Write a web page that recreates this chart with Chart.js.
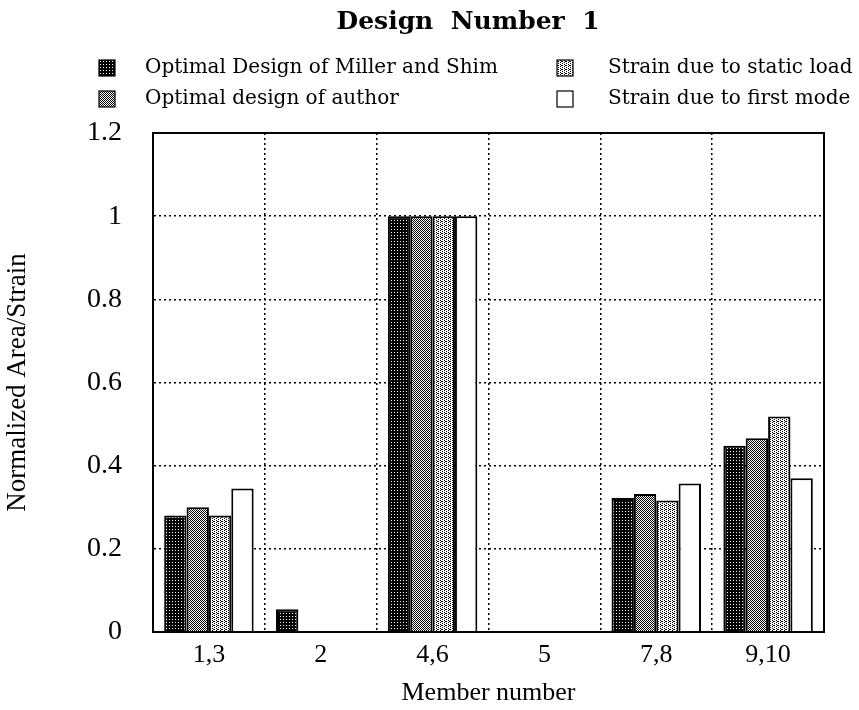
<!DOCTYPE html>
<html><head><meta charset="utf-8">
<script src="https://cdn.jsdelivr.net/npm/chart.js@4"></script>
<style>html,body{margin:0;padding:0;background:#fff}#wrap{width:859px;height:710px;position:relative}</style>
</head><body><div id="wrap"><canvas id="c" width="859" height="710"></canvas></div>
<script>
const chartTitle = 'Design  Number  1';
const categories = ['1,3', '2', '4,6', '5', '7,8', '9,10'];
const seriesNames = ['Optimal Design of Miller and Shim', 'Optimal design of author', 'Strain due to static load', 'Strain due to first mode'];
const millerShim = [0.28, 0.055, 1.0, 0, 0.322, 0.448];
const author = [0.30, 0, 1.0, 0, 0.332, 0.466];
const staticLoad = [0.28, 0, 1.0, 0, 0.316, 0.518];
const firstMode = [0.345, 0, 1.0, 0, 0.357, 0.37];
const yTicks = [0, 0.2, 0.4, 0.6, 0.8, 1, 1.2];

function makePattern(size, blacks, invert) {
  const c = document.createElement('canvas');
  c.width = size; c.height = size;
  const g = c.getContext('2d');
  g.fillStyle = invert ? '#000' : '#fff';
  g.fillRect(0, 0, size, size);
  g.fillStyle = invert ? '#fff' : '#000';
  blacks.forEach(p => g.fillRect(p[0], p[1], 1, 1));
  return g.createPattern(c, 'repeat');
}
const pDark = makePattern(3, [[1,1]], true);
const pMid = makePattern(2, [[0,0],[1,1]], false);
const pLight = makePattern(4, [[0,0],[2,1],[0,2],[2,3],[1,1]], false);
const fills = [pDark, pMid, pLight, '#ffffff'];
const seriesData = [millerShim, author, staticLoad, firstMode];

const SERIF = '"Liberation Serif", "Times New Roman", serif';
const WIDE = '"DejaVu Serif", serif';

const decor = {
  id: 'decor',
  afterDraw(chart) {
    const ctx = chart.ctx;
    const a = chart.chartArea;
    ctx.save();
    ctx.strokeStyle = '#000';
    ctx.lineWidth = 2;
    ctx.strokeRect(a.left, a.top, a.right - a.left, a.bottom - a.top);
    // title
    ctx.fillStyle = '#000';
    ctx.font = 'bold 25px ' + WIDE;
    ctx.textAlign = 'center';
    ctx.textBaseline = 'middle';
    ctx.fillText(chartTitle, 468, 22);
    // legend
    const pos = [[99, 68, 145], [99, 99, 145], [557, 68, 608], [557, 99, 608]];
    ctx.font = '20px ' + WIDE;
    ctx.textAlign = 'left';
    chart.data.datasets.forEach((ds, i) => {
      const [x, y, tx] = pos[i];
      ctx.fillStyle = ds.backgroundColor;
      ctx.fillRect(x, y - 8, 16, 16);
      ctx.strokeStyle = '#000';
      ctx.lineWidth = 1.2;
      ctx.strokeRect(x, y - 8, 16, 16);
      ctx.fillStyle = '#000';
      ctx.fillText(ds.label, tx, y);
    });
    ctx.restore();
  }
};

new Chart(document.getElementById('c'), {
  type: 'bar',
  data: {
    labels: categories,
    datasets: seriesNames.map((n, i) => ({
      label: n,
      data: seriesData[i],
      backgroundColor: fills[i],
      borderColor: '#000',
      borderWidth: 2,
      borderSkipped: 'bottom',
      categoryPercentage: 0.8,
      barPercentage: 1.0
    }))
  },
  options: {
    responsive: false,
    animation: false,
    layout: { padding: { top: 133, right: 35, left: 0, bottom: 0 } },
    plugins: { legend: { display: false }, title: { display: false }, tooltip: { enabled: false } },
    scales: {
      x: {
        grid: { color: '#000', lineWidth: 1.5, drawTicks: false },
        border: { color: '#000', width: 2, dash: [2, 3] },
        ticks: { color: '#000', font: { family: SERIF, size: 26 }, padding: 8 },
        title: { display: true, text: 'Member number', color: '#000', font: { family: SERIF, size: 26 }, padding: { top: 2, bottom: 1 } },
        afterFit(s) { s.height = 78; }
      },
      y: {
        min: 0, max: 1.2,
        afterBuildTicks(s) { s.ticks = yTicks.map(v => ({ value: v })); },
        grid: { color: '#000', lineWidth: 1.5, drawTicks: false },
        border: { color: '#000', width: 2, dash: [2, 3] },
        ticks: { color: '#000', font: { family: SERIF, size: 28 }, padding: 31,
          callback: v => String(Math.round(v * 10) / 10) },
        title: { display: true, text: 'Normalized Area/Strain', color: '#000', font: { family: SERIF, size: 27 }, padding: { top: 2, bottom: 0 } },
        afterFit(s) { s.width = 153; }
      }
    }
  },
  plugins: [decor]
});
</script></body></html>
